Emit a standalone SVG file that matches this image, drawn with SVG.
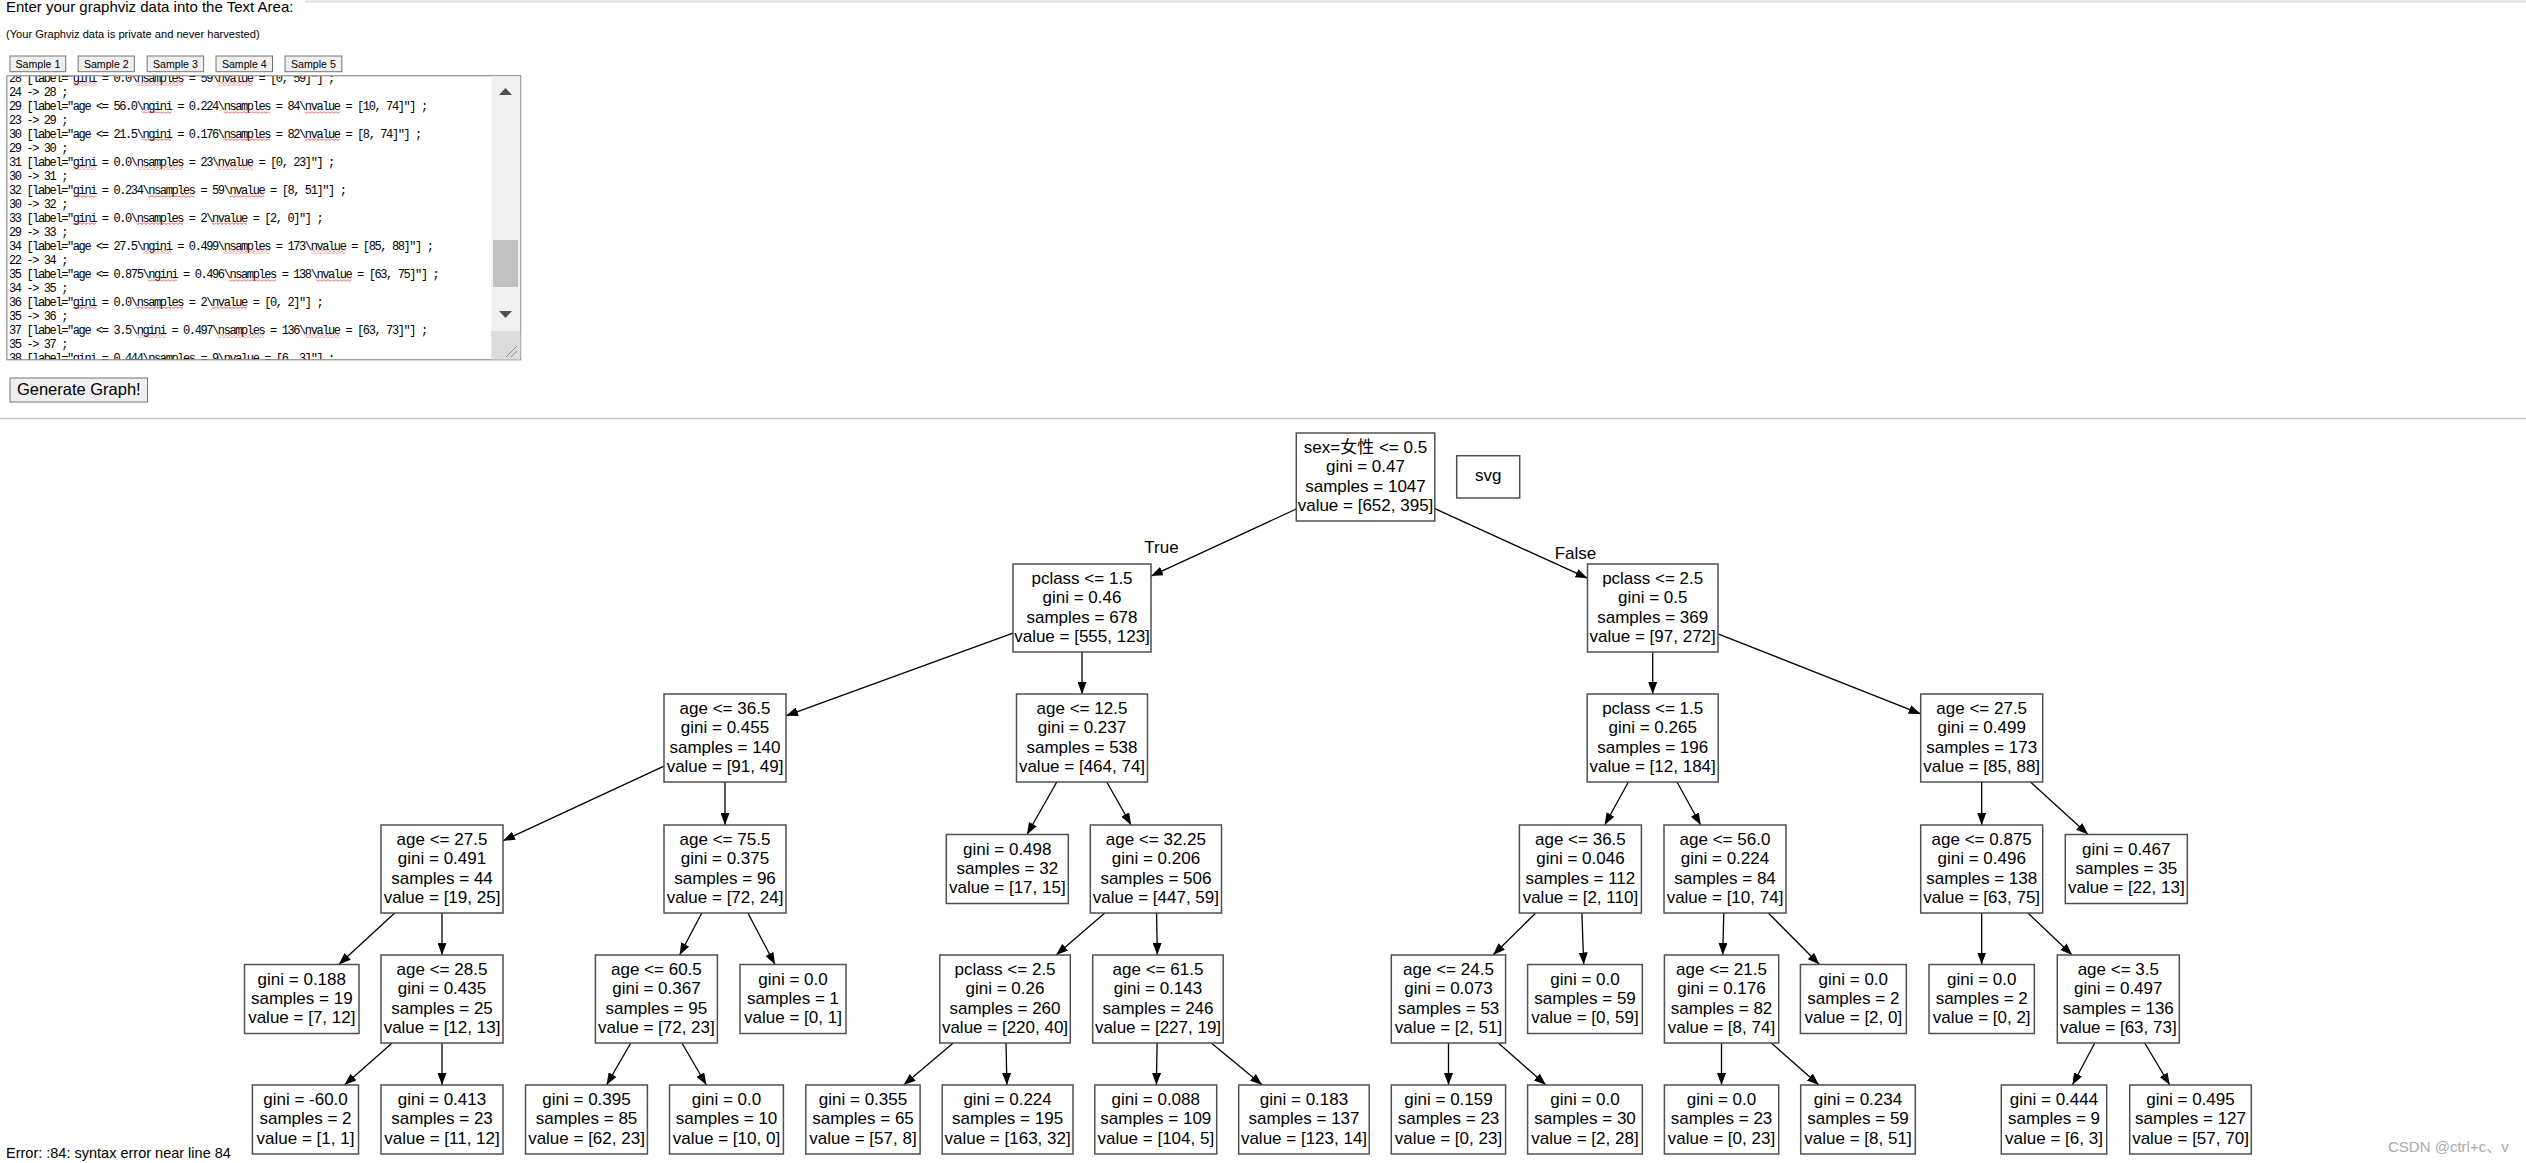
<svg xmlns="http://www.w3.org/2000/svg" width="2526" height="1163" viewBox="0 0 2526 1163">
<defs>
<style>
.t{font-family:"Liberation Sans","Noto Sans CJK SC",sans-serif;font-size:17px;text-anchor:middle;fill:#000}
.b{fill:#fff;stroke:#505050;stroke-width:1.5}
.e{stroke:#000;stroke-width:1.3;fill:none;marker-end:url(#ah)}
.btn{fill:#efefef;stroke:#767676;stroke-width:1}
.bt{font-family:"Liberation Sans",sans-serif;font-size:10.6px;text-anchor:middle;fill:#000}
.code{font-family:"Liberation Mono",monospace;font-size:12px;letter-spacing:-1.4px;fill:#000}
.sq{fill:url(#sqp)}
</style>
<marker id="ah" viewBox="0 0 12 9" refX="12" refY="4.5" markerWidth="12" markerHeight="9" markerUnits="userSpaceOnUse" orient="auto"><path d="M0,0 L12,4.5 L0,9 z" fill="#000"/></marker>
<pattern id="sqp" x="0" y="0" width="4" height="3" patternUnits="userSpaceOnUse"><path d="M0,0.5 L2,2.5 L4,0.5" fill="none" stroke="#e32b2b" stroke-width="0.9"/></pattern>
<clipPath id="tac"><rect x="7.4" y="76.3" width="483.6" height="283"/></clipPath>
</defs>
<rect width="2526" height="1163" fill="#fff"/>

<g id="page">
<line x1="305" y1="1.5" x2="2526" y2="1.5" stroke="#dcdcdc" stroke-width="2"/>
<text x="6" y="12" font-family="Liberation Sans,sans-serif" font-size="15" fill="#000">Enter your graphviz data into the Text Area:</text>
<text x="6" y="38" font-family="Liberation Sans,sans-serif" font-size="11.1" fill="#000">(Your Graphviz data is private and never harvested)</text>
<rect class="btn" x="10" y="56" width="55.7" height="15.7"/><text class="bt" x="37.9" y="67.5">Sample 1</text>
<rect class="btn" x="78.2" y="56" width="56.1" height="15.7"/><text class="bt" x="106.3" y="67.5">Sample 2</text>
<rect class="btn" x="147.1" y="56" width="56.5" height="15.7"/><text class="bt" x="175.4" y="67.5">Sample 3</text>
<rect class="btn" x="216" y="56" width="56.5" height="15.7"/><text class="bt" x="244.3" y="67.5">Sample 4</text>
<rect class="btn" x="285" y="56" width="56.8" height="15.7"/><text class="bt" x="313.4" y="67.5">Sample 5</text>

<rect x="6.9" y="75.8" width="513.8" height="284" fill="#fff" stroke="#767676" stroke-width="1"/>
<g clip-path="url(#tac)">
<text class="code" x="9" y="82">28 [label="gini = 0.0\nsamples = 59\nvalue = [0, 59]"] ;</text>
<text class="code" x="9" y="96">24 -&gt; 28 ;</text>
<text class="code" x="9" y="110">29 [label="age &lt;= 56.0\ngini = 0.224\nsamples = 84\nvalue = [10, 74]"] ;</text>
<text class="code" x="9" y="124">23 -&gt; 29 ;</text>
<text class="code" x="9" y="138">30 [label="age &lt;= 21.5\ngini = 0.176\nsamples = 82\nvalue = [8, 74]"] ;</text>
<text class="code" x="9" y="152">29 -&gt; 30 ;</text>
<text class="code" x="9" y="166">31 [label="gini = 0.0\nsamples = 23\nvalue = [0, 23]"] ;</text>
<text class="code" x="9" y="180">30 -&gt; 31 ;</text>
<text class="code" x="9" y="194">32 [label="gini = 0.234\nsamples = 59\nvalue = [8, 51]"] ;</text>
<text class="code" x="9" y="208">30 -&gt; 32 ;</text>
<text class="code" x="9" y="222">33 [label="gini = 0.0\nsamples = 2\nvalue = [2, 0]"] ;</text>
<text class="code" x="9" y="236">29 -&gt; 33 ;</text>
<text class="code" x="9" y="250">34 [label="age &lt;= 27.5\ngini = 0.499\nsamples = 173\nvalue = [85, 88]"] ;</text>
<text class="code" x="9" y="264">22 -&gt; 34 ;</text>
<text class="code" x="9" y="278">35 [label="age &lt;= 0.875\ngini = 0.496\nsamples = 138\nvalue = [63, 75]"] ;</text>
<text class="code" x="9" y="292">34 -&gt; 35 ;</text>
<text class="code" x="9" y="306">36 [label="gini = 0.0\nsamples = 2\nvalue = [0, 2]"] ;</text>
<text class="code" x="9" y="320">35 -&gt; 36 ;</text>
<text class="code" x="9" y="334">37 [label="age &lt;= 3.5\ngini = 0.497\nsamples = 136\nvalue = [63, 73]"] ;</text>
<text class="code" x="9" y="348">35 -&gt; 37 ;</text>
<text class="code" x="9" y="362">38 [label="gini = 0.444\nsamples = 9\nvalue = [6, 3]"] ;</text>
<rect class="sq" x="72.8" y="82.5" width="23.2" height="3"/><rect class="sq" x="136.6" y="82.5" width="46.4" height="3"/><rect class="sq" x="217.8" y="82.5" width="34.8" height="3"/>
<rect class="sq" x="142.4" y="110.5" width="29" height="3"/><rect class="sq" x="223.6" y="110.5" width="46.4" height="3"/><rect class="sq" x="304.8" y="110.5" width="34.8" height="3"/>
<rect class="sq" x="142.4" y="138.5" width="29" height="3"/><rect class="sq" x="223.6" y="138.5" width="46.4" height="3"/><rect class="sq" x="304.8" y="138.5" width="34.8" height="3"/>
<rect class="sq" x="72.8" y="166.5" width="23.2" height="3"/><rect class="sq" x="136.6" y="166.5" width="46.4" height="3"/><rect class="sq" x="217.8" y="166.5" width="34.8" height="3"/>
<rect class="sq" x="72.8" y="194.5" width="23.2" height="3"/><rect class="sq" x="148.2" y="194.5" width="46.4" height="3"/><rect class="sq" x="229.4" y="194.5" width="34.8" height="3"/>
<rect class="sq" x="72.8" y="222.5" width="23.2" height="3"/><rect class="sq" x="136.6" y="222.5" width="46.4" height="3"/><rect class="sq" x="212" y="222.5" width="34.8" height="3"/>
<rect class="sq" x="142.4" y="250.5" width="29" height="3"/><rect class="sq" x="223.6" y="250.5" width="46.4" height="3"/><rect class="sq" x="310.6" y="250.5" width="34.8" height="3"/>
<rect class="sq" x="148.2" y="278.5" width="29" height="3"/><rect class="sq" x="229.4" y="278.5" width="46.4" height="3"/><rect class="sq" x="316.4" y="278.5" width="34.8" height="3"/>
<rect class="sq" x="72.8" y="306.5" width="23.2" height="3"/><rect class="sq" x="136.6" y="306.5" width="46.4" height="3"/><rect class="sq" x="212" y="306.5" width="34.8" height="3"/>
<rect class="sq" x="136.6" y="334.5" width="29" height="3"/><rect class="sq" x="217.8" y="334.5" width="46.4" height="3"/><rect class="sq" x="304.8" y="334.5" width="34.8" height="3"/>
</g>
<rect x="491.4" y="76.3" width="28.8" height="283" fill="#f1f1f1"/>
<rect x="491.4" y="331" width="28.8" height="28.3" fill="#dcdcdc"/>
<path d="M499,95 L512,95 L505.5,88 z" fill="#505050"/>
<path d="M499,311 L512,311 L505.5,318 z" fill="#505050"/>
<rect x="493" y="240" width="25" height="47" fill="#c1c1c1"/>
<path d="M506,357 L517,346 M511,357 L517,351" stroke="#8a8a8a" stroke-width="1"/>

<rect class="btn" x="10" y="378" width="137.5" height="24"/>
<text x="78.8" y="395" font-family="Liberation Sans,sans-serif" font-size="16.5" text-anchor="middle" fill="#000">Generate Graph!</text>
<line x1="0" y1="418.5" x2="2526" y2="418.5" stroke="#c4c4c4" stroke-width="1.5"/>
<text x="6" y="1158" font-family="Liberation Sans,sans-serif" font-size="14.5" fill="#000">Error: :84: syntax error near line 84</text>
<text x="2388" y="1152" font-family="Liberation Sans,'Noto Sans CJK SC',sans-serif" font-size="15" fill="#aaa">CSDN @ctrl+c、v</text>
</g>

<g id="connectors">
<line class="e" x1="1296.3" y1="509" x2="1151" y2="576.1"/>
<line class="e" x1="1434.8" y1="508.6" x2="1587.5" y2="578.2"/>
<line class="e" x1="1013" y1="633.1" x2="786" y2="715.8"/>
<line class="e" x1="1082" y1="652" x2="1082" y2="694"/>
<line class="e" x1="664" y1="766.2" x2="503" y2="840.8"/>
<line class="e" x1="725" y1="782" x2="725" y2="825"/>
<line class="e" x1="394.7" y1="913" x2="338.8" y2="964.5"/>
<line class="e" x1="442" y1="913" x2="442" y2="955"/>
<line class="e" x1="392.1" y1="1043" x2="344.5" y2="1085"/>
<line class="e" x1="442" y1="1043" x2="442" y2="1085"/>
<line class="e" x1="701.8" y1="913" x2="679.6" y2="955"/>
<line class="e" x1="747.9" y1="913" x2="775" y2="964.5"/>
<line class="e" x1="630.8" y1="1043" x2="606.5" y2="1085"/>
<line class="e" x1="681.9" y1="1043" x2="706.4" y2="1085"/>
<line class="e" x1="1056.8" y1="782" x2="1027" y2="834.5"/>
<line class="e" x1="1106.8" y1="782" x2="1131.1" y2="825"/>
<line class="e" x1="1104.8" y1="913" x2="1056.1" y2="955"/>
<line class="e" x1="1156.6" y1="913" x2="1157.3" y2="955"/>
<line class="e" x1="953.2" y1="1043" x2="903.6" y2="1085"/>
<line class="e" x1="1006" y1="1043" x2="1006.9" y2="1085"/>
<line class="e" x1="1157.1" y1="1043" x2="1156.4" y2="1085"/>
<line class="e" x1="1211.3" y1="1043" x2="1262.2" y2="1085"/>
<line class="e" x1="1652.7" y1="652" x2="1652.7" y2="694"/>
<line class="e" x1="1718" y1="633.8" x2="1920.7" y2="713.9"/>
<line class="e" x1="1628.4" y1="782" x2="1604.7" y2="825"/>
<line class="e" x1="1677" y1="782" x2="1700.7" y2="825"/>
<line class="e" x1="1535.7" y1="913" x2="1493.1" y2="955"/>
<line class="e" x1="1581.9" y1="913" x2="1583.7" y2="964.5"/>
<line class="e" x1="1448.5" y1="1043" x2="1448.5" y2="1085"/>
<line class="e" x1="1498.3" y1="1043" x2="1545.9" y2="1085"/>
<line class="e" x1="1723.8" y1="913" x2="1722.7" y2="955"/>
<line class="e" x1="1768.3" y1="913" x2="1819.4" y2="964.5"/>
<line class="e" x1="1721.5" y1="1043" x2="1721.5" y2="1085"/>
<line class="e" x1="1771.4" y1="1043" x2="1818.9" y2="1085"/>
<line class="e" x1="1981.7" y1="782" x2="1981.7" y2="825"/>
<line class="e" x1="2030.5" y1="782" x2="2088.1" y2="834.5"/>
<line class="e" x1="1981.7" y1="913" x2="1981.7" y2="964.5"/>
<line class="e" x1="2027.9" y1="913" x2="2072.1" y2="955"/>
<line class="e" x1="2094.8" y1="1043" x2="2072.4" y2="1085"/>
<line class="e" x1="2144.7" y1="1043" x2="2169.8" y2="1085"/>
<text class="t" x="1161.5" y="553" font-size="16">True</text>
<text class="t" x="1575.5" y="559" font-size="16">False</text>
</g>

<g id="n0"><rect class="b" x="1296.3" y="433" width="138.5" height="88"/><text class="t" x="1365.5" y="453"><tspan x="1365.5">sex=女性 &lt;= 0.5</tspan><tspan x="1365.5" dy="19.3">gini = 0.47</tspan><tspan x="1365.5" dy="19.3">samples = 1047</tspan><tspan x="1365.5" dy="19.3">value = [652, 395]</tspan></text></g>
<g id="svgnode"><rect class="b" x="1456.7" y="455.7" width="63" height="42.3"/><text class="t" x="1488.2" y="481">svg</text></g>

<g id="n1"><rect class="b" x="1013" y="564" width="138" height="88"/><text class="t" y="584"><tspan x="1082">pclass &lt;= 1.5</tspan><tspan x="1082" dy="19.3">gini = 0.46</tspan><tspan x="1082" dy="19.3">samples = 678</tspan><tspan x="1082" dy="19.3">value = [555, 123]</tspan></text></g>
<g id="n22"><rect class="b" x="1587.5" y="564" width="130.5" height="88"/><text class="t" y="584"><tspan x="1652.7">pclass &lt;= 2.5</tspan><tspan x="1652.7" dy="19.3">gini = 0.5</tspan><tspan x="1652.7" dy="19.3">samples = 369</tspan><tspan x="1652.7" dy="19.3">value = [97, 272]</tspan></text></g>

<g id="n2"><rect class="b" x="664" y="694" width="122" height="88"/><text class="t" y="714"><tspan x="725">age &lt;= 36.5</tspan><tspan x="725" dy="19.3">gini = 0.455</tspan><tspan x="725" dy="19.3">samples = 140</tspan><tspan x="725" dy="19.3">value = [91, 49]</tspan></text></g>
<g id="n13"><rect class="b" x="1016.5" y="694" width="131" height="88"/><text class="t" y="714"><tspan x="1082">age &lt;= 12.5</tspan><tspan x="1082" dy="19.3">gini = 0.237</tspan><tspan x="1082" dy="19.3">samples = 538</tspan><tspan x="1082" dy="19.3">value = [464, 74]</tspan></text></g>
<g id="n23"><rect class="b" x="1587.2" y="694" width="131" height="88"/><text class="t" y="714"><tspan x="1652.7">pclass &lt;= 1.5</tspan><tspan x="1652.7" dy="19.3">gini = 0.265</tspan><tspan x="1652.7" dy="19.3">samples = 196</tspan><tspan x="1652.7" dy="19.3">value = [12, 184]</tspan></text></g>
<g id="n34"><rect class="b" x="1920.7" y="694" width="122" height="88"/><text class="t" y="714"><tspan x="1981.7">age &lt;= 27.5</tspan><tspan x="1981.7" dy="19.3">gini = 0.499</tspan><tspan x="1981.7" dy="19.3">samples = 173</tspan><tspan x="1981.7" dy="19.3">value = [85, 88]</tspan></text></g>

<g id="n3"><rect class="b" x="381" y="825" width="122" height="88"/><text class="t" y="845"><tspan x="442">age &lt;= 27.5</tspan><tspan x="442" dy="19.3">gini = 0.491</tspan><tspan x="442" dy="19.3">samples = 44</tspan><tspan x="442" dy="19.3">value = [19, 25]</tspan></text></g>
<g id="n7"><rect class="b" x="664" y="825" width="122" height="88"/><text class="t" y="845"><tspan x="725">age &lt;= 75.5</tspan><tspan x="725" dy="19.3">gini = 0.375</tspan><tspan x="725" dy="19.3">samples = 96</tspan><tspan x="725" dy="19.3">value = [72, 24]</tspan></text></g>
<g id="n14"><rect class="b" x="946.3" y="834.5" width="122" height="69"/><text class="t" y="854.5"><tspan x="1007.3">gini = 0.498</tspan><tspan x="1007.3" dy="19.3">samples = 32</tspan><tspan x="1007.3" dy="19.3">value = [17, 15]</tspan></text></g>
<g id="n15"><rect class="b" x="1090.3" y="825" width="131.2" height="88"/><text class="t" y="845"><tspan x="1155.9">age &lt;= 32.25</tspan><tspan x="1155.9" dy="19.3">gini = 0.206</tspan><tspan x="1155.9" dy="19.3">samples = 506</tspan><tspan x="1155.9" dy="19.3">value = [447, 59]</tspan></text></g>
<g id="n24"><rect class="b" x="1519.4" y="825" width="122" height="88"/><text class="t" y="845"><tspan x="1580.4">age &lt;= 36.5</tspan><tspan x="1580.4" dy="19.3">gini = 0.046</tspan><tspan x="1580.4" dy="19.3">samples = 112</tspan><tspan x="1580.4" dy="19.3">value = [2, 110]</tspan></text></g>
<g id="n29"><rect class="b" x="1664" y="825" width="122" height="88"/><text class="t" y="845"><tspan x="1725">age &lt;= 56.0</tspan><tspan x="1725" dy="19.3">gini = 0.224</tspan><tspan x="1725" dy="19.3">samples = 84</tspan><tspan x="1725" dy="19.3">value = [10, 74]</tspan></text></g>
<g id="n35"><rect class="b" x="1920.7" y="825" width="122" height="88"/><text class="t" y="845"><tspan x="1981.7">age &lt;= 0.875</tspan><tspan x="1981.7" dy="19.3">gini = 0.496</tspan><tspan x="1981.7" dy="19.3">samples = 138</tspan><tspan x="1981.7" dy="19.3">value = [63, 75]</tspan></text></g>
<g id="n40"><rect class="b" x="2065.3" y="834.5" width="122" height="69"/><text class="t" y="854.5"><tspan x="2126.3">gini = 0.467</tspan><tspan x="2126.3" dy="19.3">samples = 35</tspan><tspan x="2126.3" dy="19.3">value = [22, 13]</tspan></text></g>

<g id="n4"><rect class="b" x="244.5" y="964.5" width="114.5" height="69"/><text class="t" y="984.5"><tspan x="301.8">gini = 0.188</tspan><tspan x="301.8" dy="19.3">samples = 19</tspan><tspan x="301.8" dy="19.3">value = [7, 12]</tspan></text></g>
<g id="n5"><rect class="b" x="381" y="955" width="122" height="88"/><text class="t" y="975"><tspan x="442">age &lt;= 28.5</tspan><tspan x="442" dy="19.3">gini = 0.435</tspan><tspan x="442" dy="19.3">samples = 25</tspan><tspan x="442" dy="19.3">value = [12, 13]</tspan></text></g>
<g id="n8"><rect class="b" x="595.4" y="955" width="122" height="88"/><text class="t" y="975"><tspan x="656.4">age &lt;= 60.5</tspan><tspan x="656.4" dy="19.3">gini = 0.367</tspan><tspan x="656.4" dy="19.3">samples = 95</tspan><tspan x="656.4" dy="19.3">value = [72, 23]</tspan></text></g>
<g id="n11"><rect class="b" x="740" y="964.5" width="106" height="69"/><text class="t" y="984.5"><tspan x="793">gini = 0.0</tspan><tspan x="793" dy="19.3">samples = 1</tspan><tspan x="793" dy="19.3">value = [0, 1]</tspan></text></g>
<g id="n16"><rect class="b" x="939.8" y="955" width="130.5" height="88"/><text class="t" y="975"><tspan x="1005">pclass &lt;= 2.5</tspan><tspan x="1005" dy="19.3">gini = 0.26</tspan><tspan x="1005" dy="19.3">samples = 260</tspan><tspan x="1005" dy="19.3">value = [220, 40]</tspan></text></g>
<g id="n19"><rect class="b" x="1092.7" y="955" width="130.5" height="88"/><text class="t" y="975"><tspan x="1158">age &lt;= 61.5</tspan><tspan x="1158" dy="19.3">gini = 0.143</tspan><tspan x="1158" dy="19.3">samples = 246</tspan><tspan x="1158" dy="19.3">value = [227, 19]</tspan></text></g>
<g id="n25"><rect class="b" x="1391.3" y="955" width="114.3" height="88"/><text class="t" y="975"><tspan x="1448.5">age &lt;= 24.5</tspan><tspan x="1448.5" dy="19.3">gini = 0.073</tspan><tspan x="1448.5" dy="19.3">samples = 53</tspan><tspan x="1448.5" dy="19.3">value = [2, 51]</tspan></text></g>
<g id="n28"><rect class="b" x="1527.6" y="964.5" width="114.7" height="69"/><text class="t" y="984.5"><tspan x="1585">gini = 0.0</tspan><tspan x="1585" dy="19.3">samples = 59</tspan><tspan x="1585" dy="19.3">value = [0, 59]</tspan></text></g>
<g id="n30"><rect class="b" x="1664.4" y="955" width="114.3" height="88"/><text class="t" y="975"><tspan x="1721.5">age &lt;= 21.5</tspan><tspan x="1721.5" dy="19.3">gini = 0.176</tspan><tspan x="1721.5" dy="19.3">samples = 82</tspan><tspan x="1721.5" dy="19.3">value = [8, 74]</tspan></text></g>
<g id="n33"><rect class="b" x="1800.4" y="964.5" width="105.9" height="69"/><text class="t" y="984.5"><tspan x="1853.3">gini = 0.0</tspan><tspan x="1853.3" dy="19.3">samples = 2</tspan><tspan x="1853.3" dy="19.3">value = [2, 0]</tspan></text></g>
<g id="n36"><rect class="b" x="1929" y="964.5" width="105.3" height="69"/><text class="t" y="984.5"><tspan x="1981.7">gini = 0.0</tspan><tspan x="1981.7" dy="19.3">samples = 2</tspan><tspan x="1981.7" dy="19.3">value = [0, 2]</tspan></text></g>
<g id="n37"><rect class="b" x="2057.3" y="955" width="122" height="88"/><text class="t" y="975"><tspan x="2118.3">age &lt;= 3.5</tspan><tspan x="2118.3" dy="19.3">gini = 0.497</tspan><tspan x="2118.3" dy="19.3">samples = 136</tspan><tspan x="2118.3" dy="19.3">value = [63, 73]</tspan></text></g>

<g id="n6a"><rect class="b" x="252.4" y="1085" width="106.1" height="69"/><text class="t" y="1105"><tspan x="305.5">gini = -60.0</tspan><tspan x="305.5" dy="19.3">samples = 2</tspan><tspan x="305.5" dy="19.3">value = [1, 1]</tspan></text></g>
<g id="n6b"><rect class="b" x="381" y="1085" width="122" height="69"/><text class="t" y="1105"><tspan x="442">gini = 0.413</tspan><tspan x="442" dy="19.3">samples = 23</tspan><tspan x="442" dy="19.3">value = [11, 12]</tspan></text></g>
<g id="n9"><rect class="b" x="525.5" y="1085" width="121.9" height="69"/><text class="t" y="1105"><tspan x="586.5">gini = 0.395</tspan><tspan x="586.5" dy="19.3">samples = 85</tspan><tspan x="586.5" dy="19.3">value = [62, 23]</tspan></text></g>
<g id="n10"><rect class="b" x="669.5" y="1085" width="113.9" height="69"/><text class="t" y="1105"><tspan x="726.5">gini = 0.0</tspan><tspan x="726.5" dy="19.3">samples = 10</tspan><tspan x="726.5" dy="19.3">value = [10, 0]</tspan></text></g>
<g id="n17"><rect class="b" x="805.8" y="1085" width="114.3" height="69"/><text class="t" y="1105"><tspan x="863">gini = 0.355</tspan><tspan x="863" dy="19.3">samples = 65</tspan><tspan x="863" dy="19.3">value = [57, 8]</tspan></text></g>
<g id="n18"><rect class="b" x="942.2" y="1085" width="130.8" height="69"/><text class="t" y="1105"><tspan x="1007.6">gini = 0.224</tspan><tspan x="1007.6" dy="19.3">samples = 195</tspan><tspan x="1007.6" dy="19.3">value = [163, 32]</tspan></text></g>
<g id="n20"><rect class="b" x="1094.8" y="1085" width="121.9" height="69"/><text class="t" y="1105"><tspan x="1155.8">gini = 0.088</tspan><tspan x="1155.8" dy="19.3">samples = 109</tspan><tspan x="1155.8" dy="19.3">value = [104, 5]</tspan></text></g>
<g id="n21"><rect class="b" x="1238.7" y="1085" width="130.5" height="69"/><text class="t" y="1105"><tspan x="1304">gini = 0.183</tspan><tspan x="1304" dy="19.3">samples = 137</tspan><tspan x="1304" dy="19.3">value = [123, 14]</tspan></text></g>
<g id="n26"><rect class="b" x="1391.3" y="1085" width="114.3" height="69"/><text class="t" y="1105"><tspan x="1448.5">gini = 0.159</tspan><tspan x="1448.5" dy="19.3">samples = 23</tspan><tspan x="1448.5" dy="19.3">value = [0, 23]</tspan></text></g>
<g id="n27"><rect class="b" x="1527.6" y="1085" width="114.7" height="69"/><text class="t" y="1105"><tspan x="1585">gini = 0.0</tspan><tspan x="1585" dy="19.3">samples = 30</tspan><tspan x="1585" dy="19.3">value = [2, 28]</tspan></text></g>
<g id="n31"><rect class="b" x="1664.4" y="1085" width="114.3" height="69"/><text class="t" y="1105"><tspan x="1721.5">gini = 0.0</tspan><tspan x="1721.5" dy="19.3">samples = 23</tspan><tspan x="1721.5" dy="19.3">value = [0, 23]</tspan></text></g>
<g id="n32"><rect class="b" x="1800.7" y="1085" width="114.6" height="69"/><text class="t" y="1105"><tspan x="1858">gini = 0.234</tspan><tspan x="1858" dy="19.3">samples = 59</tspan><tspan x="1858" dy="19.3">value = [8, 51]</tspan></text></g>
<g id="n38"><rect class="b" x="2001.3" y="1085" width="105.4" height="69"/><text class="t" y="1105"><tspan x="2054">gini = 0.444</tspan><tspan x="2054" dy="19.3">samples = 9</tspan><tspan x="2054" dy="19.3">value = [6, 3]</tspan></text></g>
<g id="n39"><rect class="b" x="2129.7" y="1085" width="121.6" height="69"/><text class="t" y="1105"><tspan x="2190.5">gini = 0.495</tspan><tspan x="2190.5" dy="19.3">samples = 127</tspan><tspan x="2190.5" dy="19.3">value = [57, 70]</tspan></text></g>
</svg>
